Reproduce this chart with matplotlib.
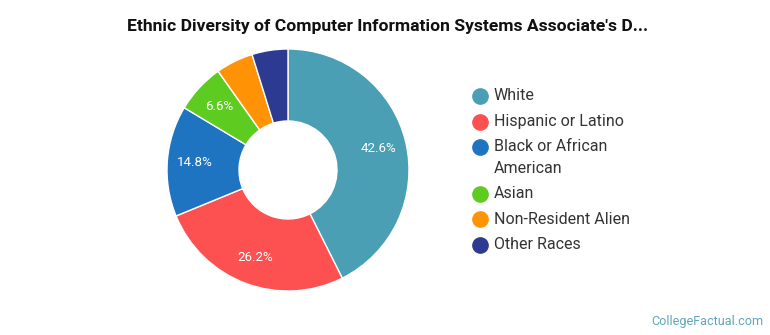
import matplotlib
matplotlib.use("Agg")
import matplotlib.pyplot as plt

plt.rcParams["font.family"] = ["Roboto", "DejaVu Sans"]

# data
categories = ["White", "Hispanic or Latino", "Black or African\nAmerican",
              "Asian", "Non-Resident Alien", "Other Races"]
shares = [42.6, 26.2, 14.8, 6.6, 5.0, 4.8]
colors = ["#4a9fb5", "#fd5151", "#1f74c2", "#5ecb21", "#ff9305", "#2c3a91"]
title = "Ethnic Diversity of Computer Information Systems Associate's D..."

W, H = 770, 335
fig = plt.figure(figsize=(W / 100, H / 100), dpi=100)

# donut: centre (288, 170) px from top, outer radius ~121 px
cx, cy, R = 288, 170, 121
ax = fig.add_axes([(cx - R) / W, (H - cy - R) / H, 2 * R / W, 2 * R / H])
ax.pie(
    shares, colors=colors, startangle=90, counterclock=False, radius=1,
    wedgeprops=dict(width=0.595, edgecolor="white", linewidth=1),
    autopct=lambda p: f"{p:.1f}%" if p > 6 else "", pctdistance=0.77,
    textprops=dict(color="white", fontsize=9.6),
)
ax.set_xlim(-1, 1)
ax.set_ylim(-1, 1)

# overlay in pixel coords for title, legend and credit
ov = fig.add_axes([0, 0, 1, 1])
ov.set_xlim(0, W)
ov.set_ylim(H, 0)
ov.axis("off")

ov.text(388, 27, title, ha="center", va="center", fontsize=12.6,
        fontweight="bold", color="#111")

y = 96
for name, col in zip(categories, colors):
    extra = name.count("\n")
    ov.plot(480, y, "o", ms=11, color=col)
    ov.text(494, y + 10.5 * extra, name, ha="left", va="center",
            fontsize=11.5, color="#333", linespacing=1.62)
    y += 25.5 + 21 * extra

ov.text(763, 321, "CollegeFactual.com", ha="right", va="center",
        fontsize=9.1, color="#5ea6ba")

fig.savefig("out.png", dpi=100)
